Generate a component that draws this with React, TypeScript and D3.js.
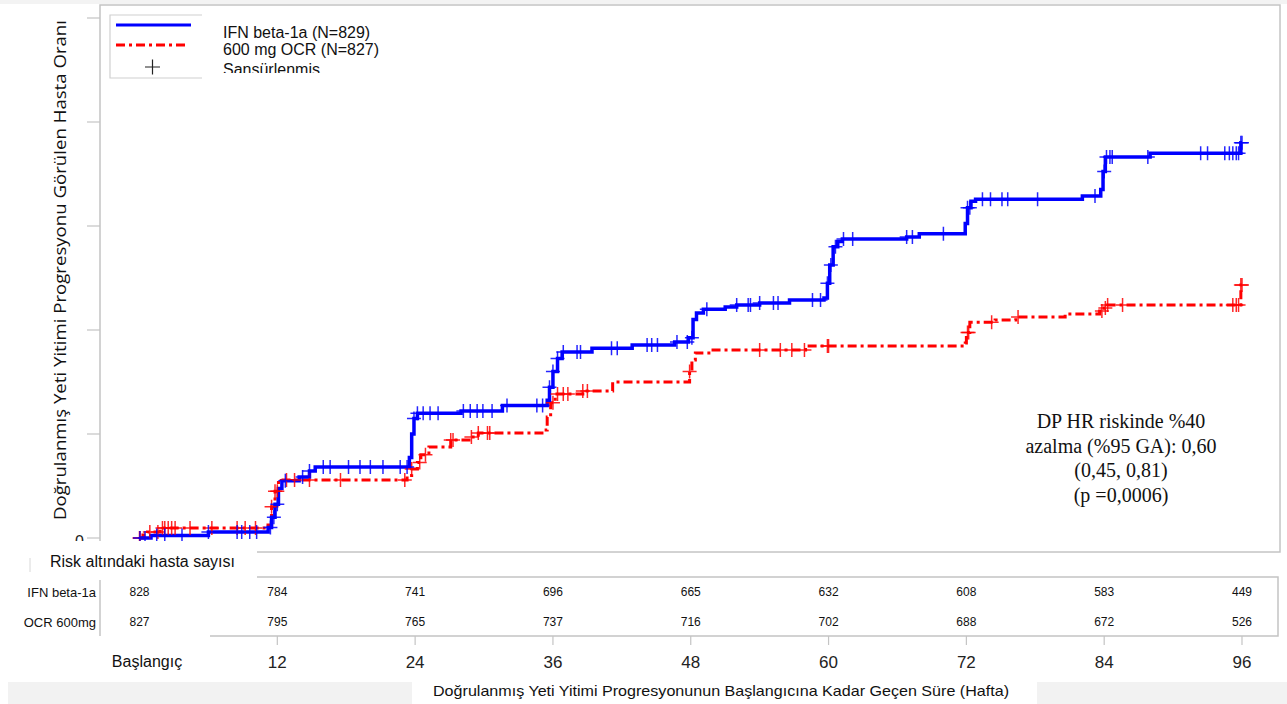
import React from "react";
import * as d3 from "d3";

// risk table / x axis
const weeks = [0, 12, 24, 36, 48, 60, 72, 84, 96];
const weekLabels = ["Başlangıç", "12", "24", "36", "48", "60", "72", "84", "96"];
const riskIFN = [828, 784, 741, 696, 665, 632, 608, 583, 449];
const riskOCR = [827, 795, 765, 737, 716, 702, 688, 672, 526];
const yTicks = [0, 0.04, 0.08, 0.12, 0.16, 0.2];

// [hafta, kümülatif oran]
const ifnSteps: [number, number][] = [
  [0, 0], [1.0, 0.001], [6.0, 0.0023], [11.2, 0.004], [11.5, 0.008], [11.8, 0.013],
  [12.1, 0.019], [12.4, 0.022], [13.9, 0.0235], [14.8, 0.0258], [15.3, 0.0273],
  [23.5, 0.031], [23.7, 0.04], [23.9, 0.046], [24.2, 0.048], [28.0, 0.0488],
  [31.6, 0.051], [35.5, 0.053], [35.7, 0.058], [36.0, 0.064], [36.4, 0.069],
  [36.8, 0.0715], [39.4, 0.073], [42.9, 0.0742], [46.6, 0.0754], [47.8, 0.077],
  [48.2, 0.084], [48.5, 0.0865], [49.1, 0.088], [51.0, 0.0888], [52.0, 0.0896],
  [54.0, 0.0904], [56.6, 0.0915], [59.6, 0.0923], [59.9, 0.098], [60.1, 0.105],
  [60.4, 0.112], [60.8, 0.114], [61.2, 0.115], [66.8, 0.1158], [67.9, 0.117],
  [71.9, 0.121], [72.1, 0.127], [72.4, 0.1295], [72.8, 0.1303], [82.1, 0.1315],
  [83.7, 0.134], [83.9, 0.141], [84.1, 0.1465], [88.0, 0.148], [95.9, 0.152],
];
const ocrSteps: [number, number][] = [
  [0, 0], [0.3, 0.0012], [0.7, 0.0023], [1.8, 0.0038], [11.0, 0.005], [11.5, 0.012],
  [11.8, 0.018], [12.1, 0.0223], [23.3, 0.024], [23.7, 0.0265], [24.2, 0.029],
  [24.5, 0.032], [25.2, 0.035], [27.1, 0.0377], [28.9, 0.0388], [29.5, 0.0404],
  [35.2, 0.0415], [35.5, 0.0465], [35.8, 0.052], [36.2, 0.0554], [38.6, 0.0565],
  [41.2, 0.06], [47.9, 0.064], [48.1, 0.0685], [48.4, 0.0712], [49.8, 0.0723],
  [58.0, 0.0738], [71.9, 0.075], [72.0, 0.079], [72.3, 0.083], [74.5, 0.0838],
  [76.3, 0.085], [80.6, 0.0862], [83.6, 0.0873], [84.0, 0.0885], [84.3, 0.0896],
  [95.9, 0.0973],
];
const ifnCensor = [
  0.04, 0.48, 1.5, 2.2, 3.7, 6.0, 8.5, 8.9, 9.6, 10.2, 11.4, 11.7, 12.0, 12.7, 14.2,
  14.8, 16.0, 16.6, 18.2, 19.2, 20.1, 21.2, 22.7, 23.3, 23.9, 24.2, 24.7, 25.3, 26.0,
  28.2, 28.8, 29.4, 29.9, 30.7, 32.0, 34.6, 35.1, 35.7, 36.0, 36.4, 36.9, 38.1, 38.4,
  41.1, 41.6, 44.2, 44.6, 45.1, 46.8, 47.7, 48.1, 49.4, 52.0, 53.0, 53.2, 54.0, 55.2,
  55.6, 58.6, 59.3, 59.9, 60.2, 60.6, 61.3, 62.1, 66.8, 67.3, 70.0, 72.1, 72.3, 73.4,
  74.1, 75.1, 75.6, 78.2, 83.2, 84.0, 84.2, 84.5, 84.7, 87.8, 92.4, 93.0, 94.5, 94.9,
  95.2, 95.5, 95.7, 95.9, 96.0,
];
const ocrCensor = [
  0.0, 0.04, 0.9, 1.6, 2.0, 2.2, 2.5, 2.8, 3.1, 4.4, 6.3, 8.5, 9.2, 10.1, 11.5, 11.8,
  12.0, 12.8, 13.5, 14.8, 17.5, 23.1, 23.7, 24.4, 24.9, 27.1, 27.3, 28.9, 29.5, 30.3,
  30.5, 36.0, 36.4, 36.9, 37.3, 38.6, 39.0, 47.9, 54.0, 55.8, 56.8, 57.9, 59.9, 60.0,
  72.1, 72.2, 74.2, 76.5, 83.8, 84.1, 84.3, 85.6, 95.2, 95.5, 95.7, 95.9, 96.0,
];

const BLUE = "#0000ff";
const RED = "#ff0000";
const GRID = "#c4c4c4";
const SANS = "'Liberation Sans', Arial, sans-serif";

const x = d3.scaleLinear().domain([0, 96]).range([139.5, 1242]);
const y = d3.scaleLinear().domain([0, 0.2]).range([538, 18]);

const stepLine = d3
  .line<[number, number]>()
  .x((d) => x(d[0]))
  .y((d) => y(d[1]))
  .curve(d3.curveStepAfter);

function valueAt(steps: [number, number][], t: number) {
  let v = 0;
  for (const s of steps) if (s[0] <= t) v = s[1];
  return v;
}

function Cross({ cx, cy, color, size = 7 }: { cx: number; cy: number; color: string; size?: number }) {
  return (
    <path
      d={`M${cx - size},${cy}H${cx + size}M${cx},${cy - size}V${cy + size}`}
      stroke={color}
      strokeWidth={1.5}
      strokeOpacity={0.85}
      fill="none"
    />
  );
}

export default function App() {
  const ifnPath = stepLine([...ifnSteps, [96, ifnSteps[ifnSteps.length - 1][1]]]) || "";
  const ocrPath = stepLine([...ocrSteps, [96, ocrSteps[ocrSteps.length - 1][1]]]) || "";
  const notes = ["DP HR riskinde %40", "azalma (%95 GA): 0,60", "(0,45, 0,81)", "(p =0,0006)"];

  return (
    <svg width={1287} height={704} style={{ position: "absolute", left: 0, top: 0, background: "#fff" }}>
      <defs>
        <clipPath id="legclip">
          <rect x={100} y={0} width={400} height={73} />
        </clipPath>
      </defs>
      <rect x={0} y={0} width={1287} height={4} fill="#f3f3f3" />

      {/* plot frame */}
      <rect x={100} y={5} width={1180} height={547} fill="none" stroke={GRID} strokeWidth={1.5} />
      {yTicks.map((t) => (
        <line key={t} x1={87} x2={100} y1={y(t)} y2={y(t)} stroke={GRID} strokeWidth={1.2} />
      ))}
      <text x={84} y={y(0) + 9} textAnchor="end" fontFamily={SANS} fontSize={16} fill="#222">
        0
      </text>

      <text
        transform={`translate(66,${y(0.1) - 8}) rotate(-90)`}
        textAnchor="middle"
        fontFamily="'Open Sans', 'Noto Sans', sans-serif"
        fontSize={17}
        textLength={500}
        lengthAdjust="spacingAndGlyphs"
        fill="#111"
      >
        Doğrulanmış Yeti Yitimi Progresyonu Görülen Hasta Oranı
      </text>

      {/* curves */}
      <path d={ocrPath} fill="none" stroke={RED} strokeWidth={3} strokeDasharray="9,4,3,4" />
      <path d={ifnPath} fill="none" stroke={BLUE} strokeWidth={3.5} />
      {ocrCensor.map((t, i) => (
        <Cross key={"o" + i} cx={x(t)} cy={y(valueAt(ocrSteps, t))} color={RED} />
      ))}
      {ifnCensor.map((t, i) => (
        <Cross key={"i" + i} cx={x(t)} cy={y(valueAt(ifnSteps, t))} color={BLUE} />
      ))}

      {/* legend */}
      <path d="M202,15H110V78H202" fill="none" stroke="#d0d0d0" strokeWidth={1.2} />
      <line x1={116} x2={191} y1={25} y2={25} stroke={BLUE} strokeWidth={3} />
      <line x1={116} x2={187} y1={45} y2={45} stroke={RED} strokeWidth={3} strokeDasharray="9,4,3,4" />
      <path d="M145,67H160M152.5,59.5V74.5" stroke="#222" strokeWidth={1.2} />
      <g clipPath="url(#legclip)" fontFamily={SANS} fontSize={16} fill="#111">
        <text x={223} y={38}>IFN beta-1a (N=829)</text>
        <text x={223} y={55}>600 mg OCR (N=827)</text>
        <text x={223} y={75}>Sansürlenmis</text>
      </g>

      {/* annotation */}
      {notes.map((s, i) => (
        <text
          key={s}
          x={1121}
          y={428 + i * 24.5}
          textAnchor="middle"
          fontFamily="'Liberation Serif', 'Times New Roman', serif"
          fontSize={20}
          fill="#111"
        >
          {s}
        </text>
      ))}

      {/* cover boxes */}
      <rect x={0} y={541} width={257} height={36} fill="#fff" />
      <line x1={30} x2={30} y1={558} y2={572} stroke="#d8d8d8" strokeWidth={1} />
      <text x={50} y={567} fontFamily={SANS} fontSize={16} fill="#111">
        Risk altındaki hasta sayısı
      </text>

      {/* risk table */}
      <path d="M257,577H1278V636H210" fill="none" stroke={GRID} strokeWidth={1.5} />
      <line x1={100} x2={100} y1={580} y2={636} stroke={GRID} strokeWidth={1.5} />
      <g fontFamily={SANS} fontSize={13} fill="#111" textAnchor="end">
        <text x={96} y={597}>IFN beta-1a</text>
        <text x={96} y={627}>OCR 600mg</text>
      </g>
      <g fontFamily={SANS} fontSize={12} fill="#111" textAnchor="middle">
        {weeks.map((w, i) => (
          <text key={"a" + w} x={x(w)} y={596}>
            {riskIFN[i]}
          </text>
        ))}
        {weeks.map((w, i) => (
          <text key={"b" + w} x={x(w)} y={626}>
            {riskOCR[i]}
          </text>
        ))}
      </g>
      {weeks.slice(1).map((w) => (
        <line key={"t" + w} x1={x(w)} x2={x(w)} y1={636} y2={645} stroke={GRID} strokeWidth={1.2} />
      ))}
      {weekLabels.map((l, i) =>
        i === 0 ? (
          <text key={l} x={147} y={667} textAnchor="middle" fontFamily={SANS} fontSize={16} fill="#111">
            {l}
          </text>
        ) : (
          <text key={l} x={x(weeks[i])} y={668} textAnchor="middle" fontFamily={SANS} fontSize={17} fill="#222">
            {l}
          </text>
        )
      )}

      {/* bottom band */}
      <rect x={8} y={682} width={404} height={22} fill="#f2f2f2" />
      <rect x={1037} y={682} width={250} height={22} fill="#f2f2f2" />
      <text
        x={721}
        y={696}
        textAnchor="middle"
        fontFamily={SANS}
        fontSize={15}
        textLength={576}
        lengthAdjust="spacingAndGlyphs"
        fill="#111"
      >
        Doğrulanmış Yeti Yitimi Progresyonunun Başlangıcına Kadar Geçen Süre (Hafta)
      </text>
    </svg>
  );
}
